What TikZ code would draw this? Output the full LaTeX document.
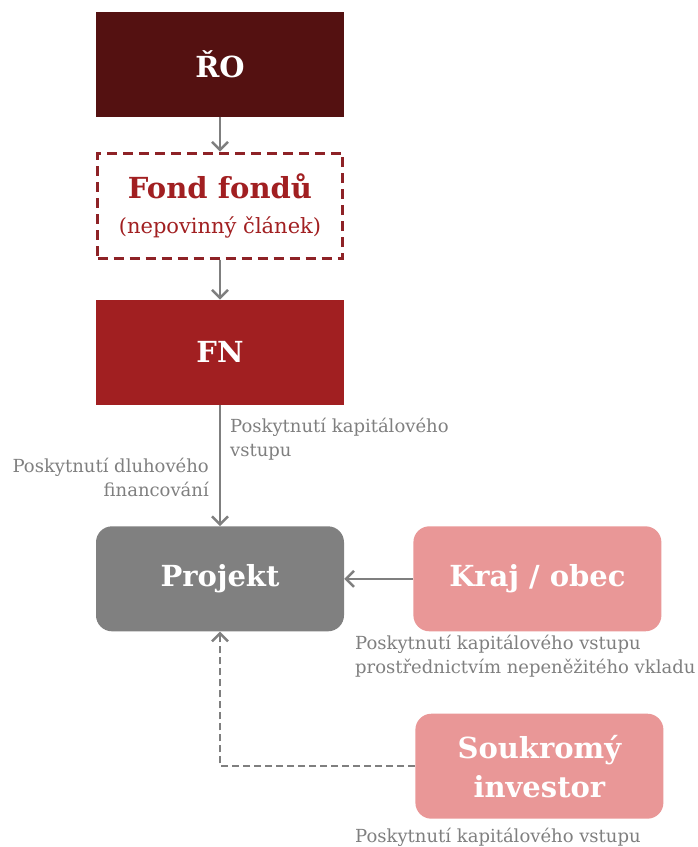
\documentclass[tikz,border=0pt]{standalone}
\usepackage{fontspec}
\setmainfont{DejaVu Serif}
\usetikzlibrary{positioning,arrows.meta}

\definecolor{roRed}{HTML}{541111}
\definecolor{fnRed}{HTML}{A11F21}
\definecolor{fondRed}{HTML}{8E2226}
\definecolor{projGray}{HTML}{808080}
\definecolor{lightRed}{HTML}{E99797}
\definecolor{linkGray}{HTML}{7F7F7F}
\definecolor{noteGray}{HTML}{7F7F7F}

\tikzset{
  box/.style={minimum width=248pt, minimum height=105pt, inner sep=0pt,
    align=center, text=white, font=\fontsize{29}{39}\selectfont\bfseries},
  roundbox/.style={box, rounded corners=16pt},
  link/.style={draw=linkGray, line width=2.5pt,
    -{Straight Barb[length=8pt,width=16pt]}},
  note/.style={text=noteGray, inner sep=0pt, font=\fontsize{18}{24}\selectfont},
}

\begin{document}
\begin{tikzpicture}[x=1pt,y=-1pt]
\useasboundingbox (0,0) rectangle (697,847);

\node[box, fill=roRed] (ro) at (220,64) {ŘO};
\node[box, draw=fondRed, line width=3pt, dash pattern=on 10pt off 6pt,
  minimum width=245pt, minimum height=105pt, text=fnRed,
  below=35pt of ro] (fond)
  {Fond fondů\\[-4pt]{\fontsize{21}{26}\selectfont\mdseries (nepovinný článek)}};
\node[box, fill=fnRed, below=40pt of fond] (fn) {FN};
\node[roundbox, fill=projGray, below=121pt of fn] (proj) {Projekt};
\node[roundbox, fill=lightRed, right=69pt of proj] (kraj) {Kraj / obec};
\node[roundbox, fill=lightRed, below=82pt of kraj, xshift=2pt] (souk)
  {Soukromý\\investor};

% toky
\draw[link] (ro) -- (fond);
\draw[link] (fond) -- (fn);
\draw[link] (fn) -- (proj);
\draw[link] (kraj) -- (proj);
\draw[link, dash pattern=on 7pt off 4pt] (souk.west) -| (proj.south);

% popisky
\node[note, anchor=north west, align=left] (kapNote) at (230,418)
  {Poskytnutí kapitálového\\vstupu};
\node[note, anchor=north east, align=right] (dluhNote) at (209,458)
  {Poskytnutí dluhového\\financování};
\node[note, anchor=north west, align=left] (krajNote) at (355,635)
  {Poskytnutí kapitálového vstupu\\prostřednictvím nepeněžitého vkladu};
\node[note, anchor=north west] (soukNote) at (355,828)
  {Poskytnutí kapitálového vstupu};
\end{tikzpicture}
\end{document}
